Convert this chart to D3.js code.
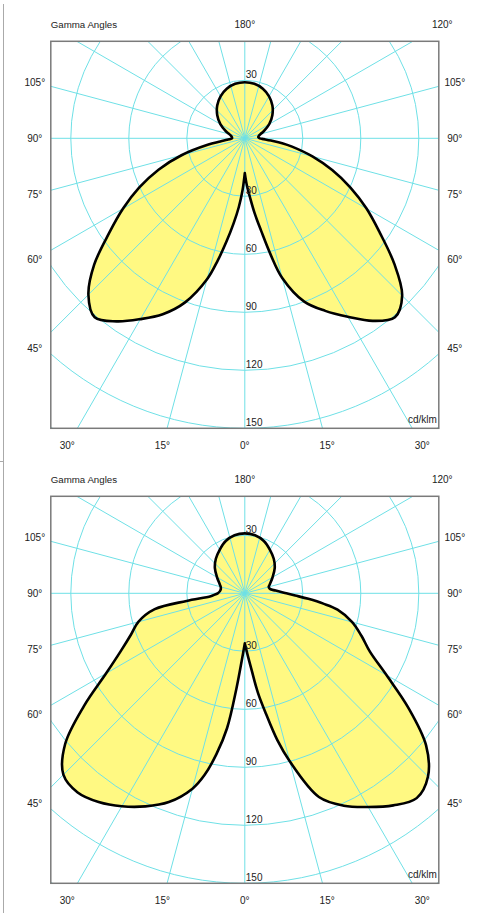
<!DOCTYPE html>
<html>
<head>
<meta charset="utf-8">
<script src="https://cdn.jsdelivr.net/npm/d3@7"></script>
<style>
  html, body { margin: 0; padding: 0; background: #fff; }
  svg { display: block; }
  text { font-family: "Liberation Sans", Arial, sans-serif; fill: #222; }
</style>
</head>
<body>
<script>
// ---- Data ----
const gamma = [0,2.5,5,7.5,10,12.5,15,20,25,30,35,40,45,50,55,60,65,70,75,80,82.5,85,87.5,90,95,100,105,110,120,130,140,150,160,170,180];

// Chart 1 (top)
const top_C0   = [18,24.3,30.6,39.2,48.5,61.5,74.8,89.9,98.5,106.6,115.3,120.8,115.1,100.9,85.3,72.7,60.3,48.1,36.2,24.8,19.5,13.6,9.9,7.7,7.0,7.4,8.4,10.3,14.6,18.6,22.2,25.1,27.3,28.6,29];
const top_C180 = [18,26.9,35.8,44.4,54.0,64.8,75.5,90.3,100.4,108.0,115.6,120.8,114.4,101.7,85.8,72.7,60.2,47.5,33.9,19.5,12.8,9.2,7.4,6.6,6.7,7.2,8.3,10.3,14.6,18.6,22.2,25.1,27.3,28.6,29];

// Chart 2 (bottom)
const bot_C0   = [25.9,31.6,39.5,51.8,63.4,77.8,90.1,112.1,121.2,127.6,133.9,138.3,134.0,122.4,103.3,84.6,71.4,64.2,57.5,48.7,41.0,33.0,26.1,21.5,16.0,13.2,12.8,13.8,16.6,20.2,23.3,26.0,28.8,30.5,31];
const bot_C180 = [25.9,34.4,49.3,70.4,84.5,96.3,104.6,114.9,121.6,127.2,131.8,134.5,132.7,121.3,101.5,82.8,70.8,62.7,57.0,47.3,30.4,17.7,15.6,14.0,12.9,12.6,12.9,13.8,16.6,20.2,23.3,26.0,28.8,30.5,31];

const radialTicks = [30,60,90,120,150];
const gridCircles = [30,60,90,120,150,180,210,240];
const spokeAngles = d3.range(0,360,15);
const sideLabels = [105,90,75,60,45];
const bottomLabels = [-30,-15,0,15,30];
const topLabels = [180,120];
const unitLabel = "cd/klm";
const titleLabel = "Gamma Angles";

// ---- Layout ----
const W = 478, H = 913;
const svg = d3.select("body").append("svg").attr("width", W).attr("height", H);

// left page border
svg.append("line").attr("x1",3.5).attr("x2",3.5).attr("y1",4).attr("y2",H)
  .attr("stroke","#aaa").attr("stroke-width",1);
svg.append("line").attr("x1",0).attr("x2",3.5).attr("y1",461.5).attr("y2",461.5)
  .attr("stroke","#aaa").attr("stroke-width",1);

const r = d3.scaleLinear().domain([0,150]).range([0,290]);
const toRad = d => d*Math.PI/180;

function drawChart(id, cx, cy, c0, c180) {
  const g = svg.append("g");
  const bx0 = cx - 194, bx1 = cx + 194, by0 = cy - 97, by1 = cy + 290;

  g.append("clipPath").attr("id", "clip"+id)
    .append("rect").attr("x", bx0).attr("y", by0).attr("width", bx1-bx0).attr("height", by1-by0);

  const inner = g.append("g").attr("clip-path", `url(#clip${id})`);

  // shape points: start at cusp, right side (C0) up to 180, then left side (C180) back to cusp
  const pts = [];
  gamma.forEach((a,i) => {
    const rr = r(c0[i]);
    pts.push([cx + rr*Math.sin(toRad(a)), cy + rr*Math.cos(toRad(a))]);
  });
  for (let i = gamma.length-2; i >= 0; i--) {
    const rr = r(c180[i]);
    pts.push([cx - rr*Math.sin(toRad(gamma[i])), cy + rr*Math.cos(toRad(gamma[i]))]);
  }
  const line = d3.line().curve(d3.curveCatmullRom.alpha(0.5));
  const d = line(pts) + "Z";

  inner.append("path").attr("d", d).attr("fill", "#fff982").attr("stroke","none");

  inner.selectAll("circle.grid").data(gridCircles).join("circle")
    .attr("class","grid")
    .attr("cx", cx).attr("cy", cy).attr("r", v => r(v))
    .attr("fill","none").attr("stroke","#6fe0e6").attr("stroke-width",1);

  inner.selectAll("line.spoke").data(spokeAngles).join("line")
    .attr("class","spoke")
    .attr("x1", cx).attr("y1", cy)
    .attr("x2", a => cx + 700*Math.sin(toRad(a)))
    .attr("y2", a => cy + 700*Math.cos(toRad(a)))
    .attr("stroke","#6fe0e6").attr("stroke-width",1);

  g.selectAll("text.rt").data(radialTicks).join("text")
    .attr("class","rt")
    .attr("x", cx + 1).attr("y", v => cy + r(v) - 2)
    .attr("font-size", 10).text(v => v);
  g.append("text").attr("x", cx + 1).attr("y", cy - r(radialTicks[0]) - 2)
    .attr("font-size", 10).text(radialTicks[0]);

  inner.append("path").attr("d", d).attr("fill","none")
    .attr("stroke","#000").attr("stroke-width",2.6).attr("stroke-linejoin","round");

  g.append("rect").attr("x", bx0).attr("y", by0).attr("width", bx1-bx0).attr("height", by1-by0)
    .attr("fill","none").attr("stroke","#7a7a7a").attr("stroke-width",1.5);

  g.append("text").attr("x", bx1 - 2).attr("y", by1 - 5).attr("text-anchor","end")
    .attr("font-size", 10).text(unitLabel);

  sideLabels.forEach(a => {
    const yy = cy + 210*Math.cos(toRad(a))/Math.sin(toRad(a));
    [-1,1].forEach(s => {
      g.append("text").attr("x", cx + s*210).attr("y", yy + 3.5)
        .attr("text-anchor","middle").attr("font-size", 10).text(a + "°");
    });
  });

  bottomLabels.forEach(a => {
    g.append("text").attr("x", cx + 307.4*Math.tan(toRad(a))).attr("y", cy + 307.4 + 3.5)
      .attr("text-anchor","middle").attr("font-size", 10).text(Math.abs(a) + "°");
  });

  topLabels.forEach(a => {
    const ang = toRad(180 - a);
    g.append("text").attr("x", cx + 114*Math.tan(ang)).attr("y", cy - 114 + 3.5)
      .attr("text-anchor","middle").attr("font-size", 10).text(a + "°");
  });
  g.append("text").attr("x", bx0).attr("y", cy - 114 + 3.5)
    .attr("font-size", 9.7).text(titleLabel);
}

drawChart(1, 244.8, 138.3, top_C0, top_C180);
drawChart(2, 244.8, 593.3, bot_C0, bot_C180);
</script>
</body>
</html>
